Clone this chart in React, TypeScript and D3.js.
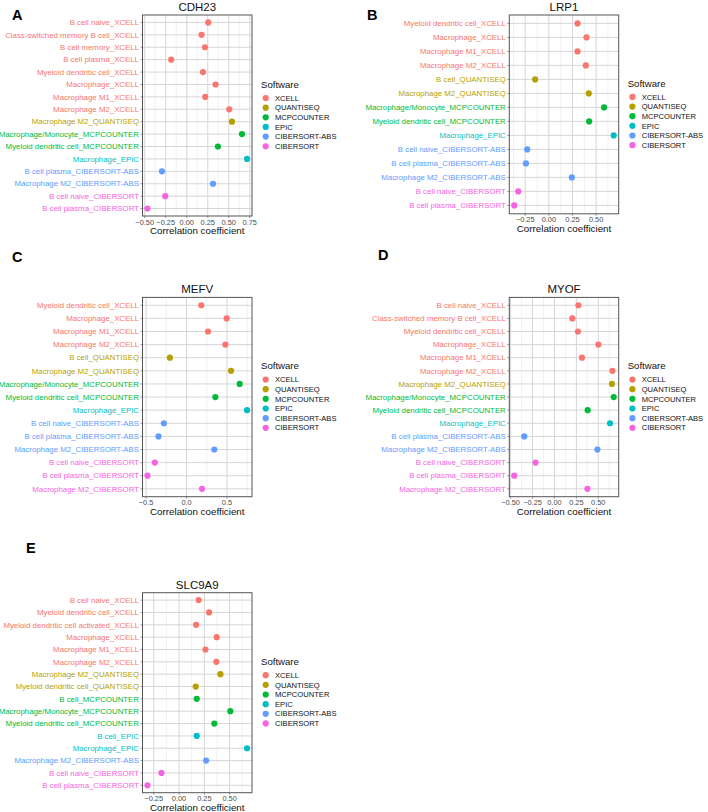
import * as d3 from 'd3';

// ---- data ----
const software = ['XCELL', 'QUANTISEQ', 'MCPCOUNTER', 'EPIC', 'CIBERSORT-ABS', 'CIBERSORT'];
const softwareColors = ['#F8766D', '#B79F00', '#00BA38', '#00BFC4', '#619CFF', '#F564E3'];

const cdh23Cells = [
  'B cell naive_XCELL', 'Class-switched memory B cell_XCELL', 'B cell memory_XCELL', 'B cell plasma_XCELL',
  'Myeloid dendritic cell_XCELL', 'Macrophage_XCELL', 'Macrophage M1_XCELL', 'Macrophage M2_XCELL',
  'Macrophage M2_QUANTISEQ', 'Macrophage/Monocyte_MCPCOUNTER', 'Myeloid dendritic cell_MCPCOUNTER',
  'Macrophage_EPIC', 'B cell plasma_CIBERSORT-ABS', 'Macrophage M2_CIBERSORT-ABS',
  'B cell naive_CIBERSORT', 'B cell plasma_CIBERSORT',
];
const cdh23Values = [0.256, 0.176, 0.217, -0.185, 0.193, 0.343, 0.22, 0.506, 0.538, 0.657, 0.371, 0.717, -0.295, 0.312, -0.256, -0.467];

const lrp1Cells = [
  'Myeloid dendritic cell_XCELL', 'Macrophage_XCELL', 'Macrophage M1_XCELL', 'Macrophage M2_XCELL',
  'B cell_QUANTISEQ', 'Macrophage M2_QUANTISEQ', 'Macrophage/Monocyte_MCPCOUNTER',
  'Myeloid dendritic cell_MCPCOUNTER', 'Macrophage_EPIC', 'B cell naive_CIBERSORT-ABS',
  'B cell plasma_CIBERSORT-ABS', 'Macrophage M2_CIBERSORT-ABS', 'B cell naive_CIBERSORT', 'B cell plasma_CIBERSORT',
];
const lrp1Values = [0.303, 0.398, 0.303, 0.391, -0.145, 0.422, 0.584, 0.426, 0.686, -0.229, -0.243, 0.243, -0.324, -0.366];

const mefvCells = [
  'Myeloid dendritic cell_XCELL', 'Macrophage_XCELL', 'Macrophage M1_XCELL', 'Macrophage M2_XCELL',
  'B cell_QUANTISEQ', 'Macrophage M2_QUANTISEQ', 'Macrophage/Monocyte_MCPCOUNTER',
  'Myeloid dendritic cell_MCPCOUNTER', 'Macrophage_EPIC', 'B cell naive_CIBERSORT-ABS',
  'B cell plasma_CIBERSORT-ABS', 'Macrophage M2_CIBERSORT-ABS', 'B cell naive_CIBERSORT',
  'B cell plasma_CIBERSORT', 'Macrophage M2_CIBERSORT',
];
const mefvValues = [0.182, 0.496, 0.265, 0.48, -0.206, 0.55, 0.657, 0.356, 0.748, -0.28, -0.347, 0.343, -0.392, -0.483, 0.191];

const myofCells = [
  'B cell naive_XCELL', 'Class-switched memory B cell_XCELL', 'Myeloid dendritic cell_XCELL', 'Macrophage_XCELL',
  'Macrophage M1_XCELL', 'Macrophage M2_XCELL', 'Macrophage M2_QUANTISEQ', 'Macrophage/Monocyte_MCPCOUNTER',
  'Myeloid dendritic cell_MCPCOUNTER', 'Macrophage_EPIC', 'B cell plasma_CIBERSORT-ABS',
  'Macrophage M2_CIBERSORT-ABS', 'B cell naive_CIBERSORT', 'B cell plasma_CIBERSORT', 'Macrophage M2_CIBERSORT',
];
const myofValues = [0.273, 0.204, 0.268, 0.501, 0.314, 0.661, 0.656, 0.676, 0.379, 0.634, -0.344, 0.49, -0.215, -0.458, 0.376];

const slc9a9Cells = [
  'B cell naive_XCELL', 'Myeloid dendritic cell_XCELL', 'Myeloid dendritic cell activated_XCELL', 'Macrophage_XCELL',
  'Macrophage M1_XCELL', 'Macrophage M2_XCELL', 'Macrophage M2_QUANTISEQ', 'Myeloid dendritic cell_QUANTISEQ',
  'B cell_MCPCOUNTER', 'Macrophage/Monocyte_MCPCOUNTER', 'Myeloid dendritic cell_MCPCOUNTER', 'B cell_EPIC',
  'Macrophage_EPIC', 'Macrophage M2_CIBERSORT-ABS', 'B cell naive_CIBERSORT', 'B cell plasma_CIBERSORT',
];
const slc9a9Values = [0.194, 0.297, 0.169, 0.372, 0.261, 0.369, 0.409, 0.165, 0.175, 0.507, 0.349, 0.175, 0.672, 0.268, -0.174, -0.312];

const ticksQuarter = [-0.5, -0.25, 0, 0.25, 0.5, 0.75];
const ticksHalf = [-0.5, 0, 0.5];

// ---- layout ----
const panels = [
  { gene: 'CDH23', letter: 'A', lx: 12, ly: 20, x0: 142.5, x1: 252, y0: 15, y1: 216, cells: cdh23Cells, values: cdh23Values, ticks: ticksQuarter, dec: 2 },
  { gene: 'LRP1', letter: 'B', lx: 367, ly: 20, x0: 509.3, x1: 618.7, y0: 15, y1: 213.8, cells: lrp1Cells, values: lrp1Values, ticks: ticksQuarter, dec: 2 },
  { gene: 'MEFV', letter: 'C', lx: 12, ly: 262, x0: 142.5, x1: 252, y0: 297.4, y1: 496.7, cells: mefvCells, values: mefvValues, ticks: ticksHalf, dec: 1 },
  { gene: 'MYOF', letter: 'D', lx: 378, ly: 260, x0: 509.3, x1: 618.7, y0: 297.4, y1: 496.7, cells: myofCells, values: myofValues, ticks: ticksQuarter, dec: 2 },
  { gene: 'SLC9A9', letter: 'E', lx: 26, ly: 553, x0: 142.5, x1: 252, y0: 592.7, y1: 792.7, cells: slc9a9Cells, values: slc9a9Values, ticks: ticksQuarter, dec: 2 },
];

const FONT = '"Liberation Sans", Arial, sans-serif';
const color = d3.scaleOrdinal<string, string>().domain(software).range(softwareColors);
const swOf = (cell: string) => cell.slice(cell.lastIndexOf('_') + 1);
const fmtTick = (v: number, dec: number) => (v < 0 ? '\u2212' : '') + Math.abs(v).toFixed(dec);

function Panel({ p }: { p: any }) {
  const [lo, hi] = d3.extent(p.values as number[]) as [number, number];
  const pad = (hi - lo) * 0.05;
  const x = d3.scaleLinear().domain([lo - pad, hi + pad]).range([p.x0, p.x1]);
  const y = d3.scalePoint<string>().domain(p.cells).range([p.y0, p.y1]).padding(0.6);
  const [dmin, dmax] = x.domain();
  const ticks = (p.ticks as number[]).filter((t) => t >= dmin && t <= dmax);
  const step = p.ticks[1] - p.ticks[0];
  const minor: number[] = [];
  for (let t = p.ticks[0] - step / 2; t <= dmax; t += step) if (t >= dmin) minor.push(t);
  const cx = (p.x0 + p.x1) / 2;
  const cy = (p.y0 + p.y1) / 2;
  const lgX = p.x1 + 9;

  return (
    <g>
      <text x={p.lx} y={p.ly} fontSize={14.5} fontWeight="bold" fontFamily={FONT} fill="#000">{p.letter}</text>
      <text x={cx} y={p.y0 - 4} textAnchor="middle" fontSize={11.5} fontFamily={FONT} fill="#111">{p.gene}</text>
      <rect x={p.x0} y={p.y0} width={p.x1 - p.x0} height={p.y1 - p.y0} fill="#fff" />
      {minor.map((t) => (
        <line key={'m' + t} x1={x(t)} x2={x(t)} y1={p.y0} y2={p.y1} stroke="#e8e8e8" strokeWidth={0.6} />
      ))}
      {ticks.map((t) => (
        <line key={'g' + t} x1={x(t)} x2={x(t)} y1={p.y0} y2={p.y1} stroke="#d6d6d6" strokeWidth={1} />
      ))}
      {(p.cells as string[]).map((c) => (
        <line key={'h' + c} x1={p.x0} x2={p.x1} y1={y(c)} y2={y(c)} stroke="#d6d6d6" strokeWidth={1} />
      ))}
      {(p.cells as string[]).map((c, i) => (
        <circle key={'d' + c} cx={x(p.values[i])} cy={y(c)} r={3.1} fill={color(swOf(c))} />
      ))}
      <rect x={p.x0} y={p.y0} width={p.x1 - p.x0} height={p.y1 - p.y0} fill="none" stroke="#555" strokeWidth={1} />
      {(p.cells as string[]).map((c) => (
        <g key={'l' + c}>
          <line x1={p.x0 - 2} x2={p.x0} y1={y(c)} y2={y(c)} stroke="#555" strokeWidth={0.6} />
          <text x={p.x0 - 3.5} y={y(c)} dy="0.35em" textAnchor="end" fontSize={7.85} fontFamily={FONT} fill={color(swOf(c))}>{c}</text>
        </g>
      ))}
      {ticks.map((t) => (
        <g key={'t' + t}>
          <line x1={x(t)} x2={x(t)} y1={p.y1} y2={p.y1 + 2} stroke="#555" strokeWidth={0.6} />
          <text x={x(t)} y={p.y1 + 8.5} textAnchor="middle" fontSize={7.4} fontFamily={FONT} fill="#4d4d4d">{fmtTick(t, p.dec)}</text>
        </g>
      ))}
      <text x={cx} y={p.y1 + 18} textAnchor="middle" fontSize={9.8} fontFamily={FONT} fill="#111">Correlation coefficient</text>
      <text x={lgX} y={cy - 31} dy="0.35em" fontSize={9.6} fontFamily={FONT} fill="#111">Software</text>
      {software.map((s, i) => (
        <g key={s}>
          <circle cx={lgX + 4.7} cy={cy - 17.5 + i * 9.65} r={3.1} fill={color(s)} />
          <text x={lgX + 14} y={cy - 17.5 + i * 9.65} dy="0.35em" fontSize={7.6} fontFamily={FONT} fill="#111">{s}</text>
        </g>
      ))}
    </g>
  );
}

export default function App() {
  return (
    <svg width={708} height={812} style={{ position: 'absolute', left: 0, top: 0, background: '#fff' }}>
      <rect width={708} height={812} fill="#fff" />
      {panels.map((p) => (
        <Panel key={p.gene} p={p} />
      ))}
    </svg>
  );
}
